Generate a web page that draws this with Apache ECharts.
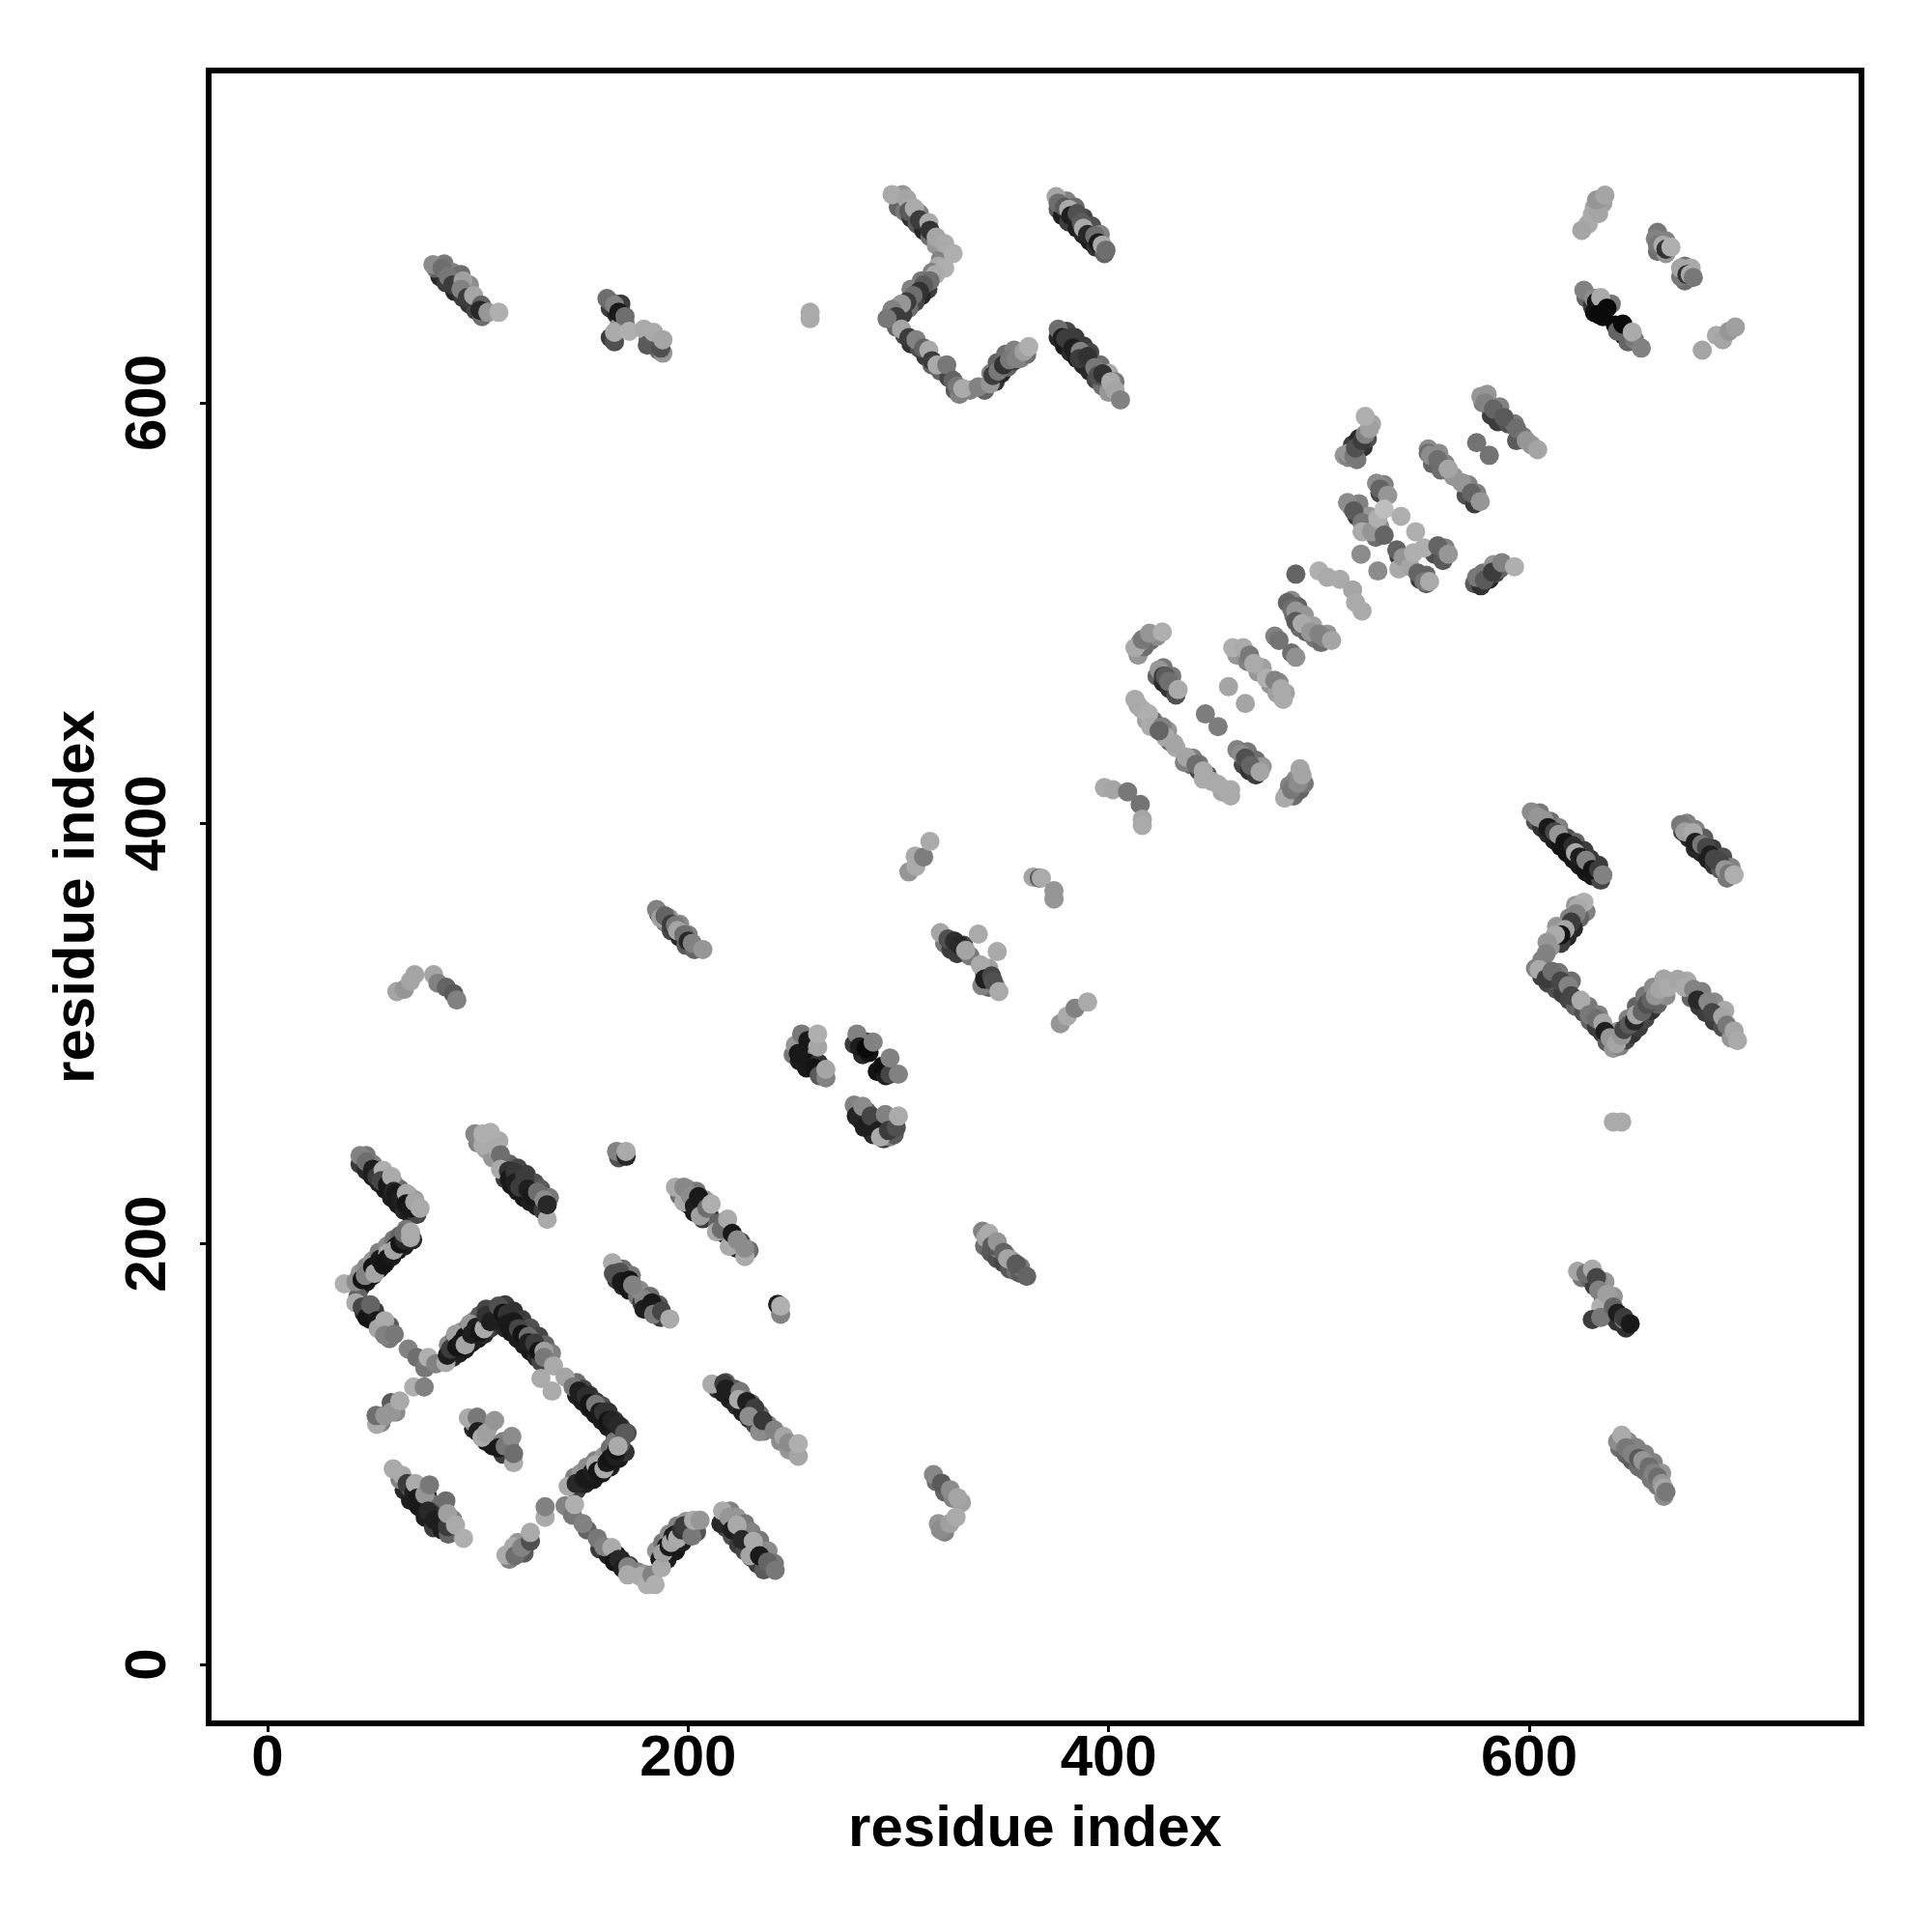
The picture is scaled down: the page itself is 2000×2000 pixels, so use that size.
<!DOCTYPE html>
<html><head><meta charset="utf-8">
<style>html,body{margin:0;padding:0;background:#fff}#c{width:2000px;height:2000px}</style>
<script src="https://cdn.jsdelivr.net/npm/echarts@6/dist/echarts.min.js"></script>
</head><body><div id="c"></div>
<script>
const axisTicks=[0,200,400,600];
const axisTitle="residue index";
// each entry: [residue x, residue y, grey level]; under* arrays are drawn first
const underLowerLeft=[[44,238,60],[47,235,40],[50,232,30],[53,229,30],[56,226,25],[59,222,30],[62,219,25],[65,216,40],[68,214,30],[71,214,70],[47,242,120],[50,238,130],[53,235,100],[57,232,120],[60,229,150],[63,226,110],[67,223,130],[70,221,150],
[44,179,60],[47,182,25],[50,185,20],[53,188,25],[56,191,20],[59,194,30],[62,197,20],[65,199,30],[69,202,40],[44,186,150],[47,189,140],[50,192,150],[53,196,130],[57,199,140],[60,202,120],[63,204,100],[66,207,120],
[43,175,100],[46,167,40],[49,164,30],[51,168,60],[54,160,60],[58,161,90],[58,155,120],
[88,146,40],[91,148,30],[94,150,25],[97,153,25],[100,155,30],[103,157,40],[106,160,60],[86,152,140],[89,155,120],[92,158,150],[95,160,130],[98,163,120],[101,166,90],[104,169,70],
[110,165,30],[113,160,40],[116,158,25],[119,155,30],[122,152,30],[125,149,25],[128,146,40],[130,144,70],[113,171,60],[117,168,50],[121,164,60],[125,160,80],[129,156,70],[132,152,100],[135,148,130],
[147,128,30],[150,125,25],[153,122,30],[156,119,25],[159,116,30],[162,113,25],[165,110,30],[168,108,50],[147,134,110],[150,131,70],[153,128,50],[156,125,60],[159,123,80],[162,120,50],[165,116,60],[168,113,70],[171,110,80],
[147,83,60],[151,86,30],[155,88,25],[159,91,25],[163,94,30],[167,98,25],[170,101,50],[146,89,130],[149,91,150],[152,94,140],[156,97,130],[160,99,150],[163,103,110],[165,106,120],[168,105,90],
[158,55,60],[162,52,30],[166,52,25],[168,50,30],[172,47,60],[152,64,100],[176,44,130],[179,43,150],
[190,50,30],[194,54,25],[197,58,30],[200,61,30],[204,63,80],[185,54,150],[188,58,120],[191,62,140],[195,66,130],[199,68,150],
[218,65,70],[221,61,80],[224,57,60],[227,54,70],[230,51,50],[233,48,60],[236,45,90],[220,73,130],[223,70,150],[227,67,120],[230,63,130],[234,59,120],[238,54,140],[241,48,120]];
const underMiddleLeft=[[113,231,60],[116,228,25],[119,225,30],[122,222,25],[125,220,30],[128,218,30],[131,216,60],[115,238,100],[119,236,70],[123,233,60],[127,229,80],[130,226,90],[134,222,120],[100,248,130],[104,245,160],[107,241,150],[110,249,170],
[167,241,80],[169,243,130],
[196,223,110],[200,219,30],[203,215,25],[207,212,60],[210,214,30],[214,210,100],[217,205,30],[220,202,25],[223,198,30],[225,201,70],[229,197,110],[200,226,160],[204,225,120],[208,221,150],
[166,183,60],[169,180,40],[172,178,25],[176,175,120],[178,172,60],[181,169,25],[184,167,40],[187,165,60],[169,188,110],[173,185,120],[177,178,140],[182,175,110],[186,171,90],
[214,131,50],[217,129,30],[220,126,30],[223,123,40],[226,120,30],[229,117,40],[232,114,70],[236,111,120],[218,134,100],[222,131,90],[226,127,110],[230,124,90],[234,119,110],[238,114,130],[244,106,140],[248,102,150],
[54,115,130],[61,120,140],[98,112,40],[101,114,60],[104,106,30],[107,104,25],[112,100,60],[115,104,110],[98,115,140],[105,113,150],[112,106,130],
[65,83,40],[68,78,30],[72,75,25],[75,70,30],[79,65,60],[83,64,30],[86,62,100],[63,88,130],[68,84,120],[72,83,130],[76,80,40],[80,76,110],[84,73,60],[88,69,130],
[115,50,130],[119,54,110],[122,53,90],[119,58,150],
[318,87,110],[322,82,100],[326,79,130],[319,67,150],[322,63,130],[330,77,160],
[341,199,110],[344,196,90],[347,193,80],[350,191,70],[353,188,90],[356,187,110],[358,186,90],[343,203,130],[347,198,140],[351,195,130],[354,192,150],[358,189,120],
[250,290,120],[253,287,30],[255,291,20],[258,285,30],[259,289,20],[262,286,50],[258,295,130],[260,297,40],[263,282,130],
[279,295,60],[283,290,40],[286,291,20],[290,282,20],[294,280,30],[282,297,90],[285,296,60],
[280,264,60],[282,259,30],[285,257,25],[288,252,40],[293,250,60],[296,251,130],[285,263,100],[290,258,140],[296,258,100],[298,252,90],
[186,357,70],[189,353,130],[192,349,70],[196,346,40],[199,342,90],[203,340,100],[191,355,150],[196,352,140],[200,347,130],
[322,343,120],[325,340,60],[328,338,60],[331,342,70],[334,337,120],[341,329,70],[343,322,100],[346,323,130],[343,331,160]];
const underCentre=[[461,480,150],[466,477,130],[471,472,150],[473,474,160],[477,466,150],[480,462,160],[481,467,140],[484,462,160],
[414,456,165],[418,449,160],[421,449,110],[423,446,80],[426,443,60],[429,439,100],[428,444,150],[432,436,170],
[439,428,110],[443,425,70],[447,423,90],[449,420,165],[454,415,165],[458,416,170],[436,429,130],[440,431,130],[443,428,120],
[461,435,130],[464,428,70],[467,425,50],[470,423,60],[466,434,120],[470,430,110],[473,427,150],
[485,414,130],[488,413,110],[491,416,100],[493,419,120],[489,421,140],[486,418,130],
[423,470,100],[426,467,40],[429,464,50],[432,461,80],[426,474,120],[430,470,120],
[414,480,150],[417,484,110],[420,487,110],[423,489,140],[415,486,130],
[487,506,140],[490,503,100],[488,499,110],[493,499,150],[491,493,110],[494,491,100],[498,488,120],[501,486,110],[504,490,150],[497,494,160],
[512,575,150],[516,580,60],[519,583,40],[521,579,50],[523,583,80],[518,573,120],[525,590,165],[514,574,130],
[578,600,120],[582,594,60],[585,591,60],[590,590,80],[593,590,120],[597,584,120],[601,580,150],[580,604,150],[586,598,130],[594,582,90],
[554,571,100],[558,568,110],[560,571,130],[564,565,150],[570,556,80],[574,552,60],[571,561,130],[575,557,130],[552,578,140],[557,576,140],
[529,557,70],[531,561,130],[518,546,60],[522,541,60],[515,551,100],[519,552,130],[524,546,150],[527,536,110],[529,541,140],
[538,527,60],[541,524,100],[548,516,60],[551,514,90],[555,528,80],[559,525,90],[560,531,130],[551,518,100],[543,526,130],
[574,514,90],[577,513,50],[581,516,40],[584,519,70],[586,521,100],[578,519,120],[583,523,150]];
const underUpper=[[82,660,40],[85,657,60],[89,653,40],[93,650,60],[96,647,50],[99,644,70],[102,641,110],[80,664,100],[84,666,120],[88,662,130],[92,661,110],[96,656,140],
[163,645,60],[166,642,40],[170,638,90],[163,631,60],[167,636,150],[163,648,90],[168,647,60],[184,629,60],[186,625,100],[181,630,110],
[300,693,100],[303,691,120],[306,688,50],[309,685,90],[312,682,40],[315,679,110],[318,675,150],[302,699,150],[310,690,130],[320,668,130],[319,665,170],[314,654,60],[311,651,40],[308,648,70],[305,645,110],[302,642,60],[299,645,110],[316,662,130],[311,658,120],[306,654,130],
[299,636,100],[303,632,70],[306,628,50],[310,626,80],[313,622,60],[316,618,100],[320,615,100],[324,612,70],[327,606,90],[329,604,130],[334,606,130],[341,606,100],[346,610,50],[349,614,40],[352,617,100],[355,620,60],[358,621,130],[361,623,110],[344,614,130],[347,619,100],[351,623,110],[355,625,130],
[376,692,90],[378,689,30],[381,686,60],[385,683,30],[388,680,40],[391,677,30],[394,674,50],[398,671,100],[380,696,130],[384,693,110],[388,688,70],[392,684,80],[396,680,130],
[376,631,40],[379,627,25],[382,624,40],[385,621,25],[388,618,40],[391,615,40],[394,611,70],[397,608,110],[400,605,150],[380,634,70],[384,631,60],[388,627,60],[391,624,70],[396,618,110],[400,614,170],[403,610,120],
[628,685,170],[631,693,170],[635,695,160],[632,692,140],
[661,681,120],[661,672,110],[665,677,130],[665,671,150],[674,665,120],[677,664,170],[674,658,110],[672,660,120],
[627,650,100],[630,646,60],[631,643,20],[635,641,15],[639,647,120],[641,637,10],[645,632,20],[647,629,100],[650,630,120]];
const underRight=[[603,401,80],[606,398,50],[609,395,40],[612,392,30],[615,389,20],[618,386,20],[621,383,20],[624,380,25],[627,377,20],[630,375,25],[634,373,70],[605,405,120],[610,401,110],[614,398,130],[618,393,80],[622,391,100],[626,387,60],[629,383,60],[633,380,60],
[673,396,60],[676,393,40],[679,388,40],[682,386,40],[685,383,30],[688,380,50],[691,378,90],[694,374,120],[675,400,130],[679,397,130],[683,393,90],[687,388,60],[692,384,80],[696,379,130],
[627,358,130],[624,355,100],[621,350,40],[618,346,40],[615,343,60],[622,361,150],[619,355,130],[613,351,150],[610,341,150],[606,335,130],[606,327,60],[609,324,70],[613,321,80],[616,319,60],[619,316,70],[622,313,100],[626,310,80],[629,306,100],[632,303,60],[635,300,60],[637,296,90],[640,293,150],[614,329,120],[620,325,110],[628,313,120],[633,309,130],
[643,294,130],[646,297,70],[649,300,50],[652,303,60],[655,307,70],[658,311,50],[661,314,100],[665,318,140],[642,301,150],[647,307,130],[651,313,100],[655,318,120],[659,322,140],[664,326,165],[677,317,100],[681,313,60],[684,310,60],[688,306,60],[692,303,80],[696,298,150],[675,325,170],[682,320,130],[688,315,140],[693,311,170],
[625,184,120],[629,183,100],[631,180,60],[635,175,100],[637,170,150],[638,166,100],[642,163,50],[646,160,50],[636,182,150],[640,175,150],
[643,103,110],[646,100,100],[649,97,90],[652,94,110],[655,92,110],[658,88,120],[661,85,120],[664,80,140],[647,106,140],[651,103,130],[655,100,130],[659,96,130],[663,91,150]];
const lowerLeftA=[[44,242,130],[47,239,110],[50,235.5,30],[52,232,60],[55,235,175],[54,230,70],[57,228,25],[59,232,170],[60,225,40],[61,224,25],[63,221,30],[66,224,170],[66,219,20],[68,217,25],[70,220,165],[72.5,217,170]];
const lowerLeftB=[[36.5,181,175],[42,182,140],[45,183,20],[46.5,185,130],[50,189,20],[51,186,165],[53.4,192.6,25],[55,190,20],[57.2,195.6,170],[57,193,20],[59,194,25],[61,198.7,30],[60,197,165],[63,200,20],[65,201.8,40],[65,205,110],[68,203,170],[68,205.6,170]];
const lowerLeftC=[[42,172,170],[45,170,70],[47.3,165,20],[49,171,100],[52,163.5,25],[52.6,159.7,165],[55.7,163.5,170],[55.7,156.6,130],[60.3,157,120],[66.9,150,130],[71,146,110],[74.8,141,120],[76.4,146,175],[80,143,130],[69.5,132,175],[74.5,132,130]];
const lowerLeftD=[[84.8,143.6,170],[85.5,147,30],[87,150,60],[89.4,157,160],[90,151,20],[92,153,25],[94,156,20],[94,152,165],[96.3,162,150],[97,157,30],[99.3,160.4,30],[101,158,20],[103,159.7,170],[104,166,50],[106,163,30]];
const lowerLeftE=[[109.8,170.4,80],[112,167,20],[114,166.6,50],[114,162,25],[117,163,25],[119.3,159.7,70],[121,157,20],[124,156,110],[124,153,30],[127,152.8,60],[129,149,20],[130,136,170],[131.5,149,160],[131.5,146,120],[136,142,170],[135.3,130,170],[141.5,136.7,165],[145.3,132,120],[148,130,30],[151.4,127.6,45],[153,124,20],[156,123.7,120],[158,120,25],[159.8,120,50],[162,116,20],[163.7,116,35],[166.7,113.8,40],[169.8,110,90]];
const lowerLeftF=[[143,84.7,170],[146.8,86,40],[150.6,88.5,25],[154.5,91.6,30],[156,95,170],[157,92,20],[160,93,170],[161.4,96,25],[163,98,20],[165.2,99,30],[166,102,20],[166.7,103.8,170],[132,70,170],[132,75,130]];
const lowerLeftG=[[141.5,75.5,130],[145,71,120],[146,76,175],[150,67,130],[156.8,60,120],[160,56,130],[163.7,55.6,170],[165,48.7,20],[167,50,40],[169,45.6,30],[171.3,46.4,130],[171.3,42.6,170],[177.4,41.8,170],[180.5,38,175],[182.8,42.6,130],[184.3,38,175]];
const lowerLeftH=[[186.6,50,25],[187.3,46,170],[189.7,56,20],[188,53,160],[191,56,25],[192.8,61,30],[192,58,165],[194,61.7,30],[195,60,170],[197,64,50],[198,66,60],[201.8,61,120],[202.6,68.6,170],[205.7,68.6,150]];
const lowerLeftI=[[215.6,67,40],[216.4,73,170],[219.5,70,150],[221,64,30],[223.3,66.3,170],[225.6,59.4,40],[229.4,51.7,165],[231,58.6,170],[234,51.7,25],[237.8,48.7,100],[241.4,44.8,120]];
const clusterJ=[[98.6,252.3,135],[102.4,247,170],[102.4,252.3,175],[106,253,175],[108.5,246,170],[110.8,242.4,110],[110.8,235.5,170],[114.6,234.7,50],[115,231,25],[117.7,234,55],[117.7,229,30],[120,227,60],[122.3,231.6,60],[123.8,226,30],[126,223,25],[128.4,224.7,110],[133,211.7,170],[131.5,221,140],[133,218.6,40]];
const clusterK=[[166,244,130],[170.5,241.6,40],[170.5,244,170]];
const clusterL=[[194,227,170],[198,220,170],[198,227,135],[201,223,140],[203,218,30],[205,222.5,25],[205.8,213.3,160],[209,217,110],[211,219,175],[213.5,205.7,170],[215.8,207,110],[218.8,211.8,170],[219.6,198.8,170],[221,205,25],[223.4,201.9,140],[227,194,170],[227,198,140]];
const clusterM=[[164,191,170],[164.5,185.8,80],[167.5,186.5,80],[168.3,182,25],[172,182.7,20],[173.6,180.4,130],[179,173.5,135],[179,169,30],[182.8,172,25],[183.6,166.6,120],[187.4,168,70],[191.3,164.3,170]];
const clusterN=[[242.6,171.2,30],[244,166.6,130],[244,170.4,175]];
const clusterO=[[211.3,133.3,170],[217,133.6,60],[221,129,25],[218,131,30],[224.8,129.8,120],[224,126,170],[227.9,125,30],[231.7,122,60],[229,118,140],[234,110.7,140],[235.5,116,55],[241,111.5,130],[245.5,108.4,165],[247.8,105.3,140],[252.4,99,165],[252.4,105,175]];
const clusterP=[[51.9,114.2,170],[51.6,118.4,110],[55.7,118.4,150],[58.8,124.5,90],[58.8,120,150],[62.9,125.3,170]];
const clusterQ=[[95.5,117.3,170],[99.7,117.6,120],[100,110.7,30],[102,108,170],[104,110,160],[108,116,150],[110,103,25],[113,103.8,120],[116.2,108.4,140],[117,96,170],[117,100.3,110]];
const clusterR=[[59.8,93,170],[64,90,170],[66.4,86,60],[69.5,81.6,30],[70.3,86,170],[71,79,25],[74.8,80.8,150],[77,85.4,120],[76.4,73,40],[79.4,68.6,30],[84.8,77.8,110],[85.6,65.5,60],[85.6,71.7,160],[89.4,66.3,170],[93.2,60,175]];
const clusterS=[[113.4,52,170],[117,56,170],[117.7,51.7,110],[120.8,55.6,130],[125,58.6,80],[125,62.8,170]];
const clusterT=[[316.7,90.3,135],[320.5,86.2,90],[324.7,83,140],[328.2,79.3,165],[320,64,140],[324.4,67,160],[327.4,70,170]];
const clusterU=[[340,206,130],[341.6,203,165],[343,205,170],[344.5,199,90],[347,201,150],[350,196,100],[352,193,165],[356,190.4,90],[361,184.6,100]];
const clusterV=[[251,294.5,150],[252.4,290.6,25],[254,299.8,120],[256.3,283.7,25],[257,296.7,25],[260,283.7,20],[261.6,293.7,165],[261.6,299.8,175],[262.4,280,90],[265.5,279,130],[265.5,283,165]];
const clusterW=[[280.3,299.8,130],[281.5,293.7,30],[284.6,293,10],[288,296,130],[292.3,284.5,15],[296,280.7,70],[296,288.4,130],[300,280.7,130]];
const clusterX=[[279,266,130],[280,260.8,35],[283,265.4,140],[283.8,255.4,30],[287,260.8,70],[290.7,253.9,30],[291.5,250.8,170],[293.8,261.5,130],[295.3,253.9,60],[299,255.4,80],[300,260.8,170]];
const clusterY=[[61.5,320,165],[65,321,150],[68,325,165],[70,328,165],[79,328,165],[81,324,130],[85,322,100],[88.5,319,90],[90,316,130]];
const clusterZ=[[185,359,130],[187,355,160],[189,356,100],[192,352,60],[194,351.5,120],[195,349,165],[198,347,110],[200,344,40],[202,343,130],[207,340,150]];
const diagAA=[[320,348,165],[323.6,345,80],[326.7,344,45],[329,342,40],[332,339.6,165],[338,347.3,170],[339.7,322.8,130],[339,332.7,170],[341,325.9,30],[344.3,327.4,70],[345,325,80],[347,339,170],[347.8,320,170]];
const diagAB=[[305,376.9,150],[308,384.4,170],[308.3,379.5,170],[312,384,125],[315,391.4,170]];
const diagAC=[[364,374.4,165],[367,374,90],[368,374,170],[374,364,150],[374,368,150]];
const diagAD=[[377,304.7,150],[380.3,308.3,170],[384,312,130],[390,315,170]];
const centreA=[[398,417,170],[402,416,165],[409,415,120],[415,409,115],[416,402,165],[416,399,170]];
const centreB=[[412.5,459,170],[416,454,170],[419,452,175],[420,446,170],[425.5,446,130],[427,441,170],[424,444,100],[431,438,165]];
const centreC=[[437,431.5,165],[441.5,428,110],[445,425,170],[445,421,170],[452,418.5,170],[456,416,170],[458,413,170]];
const centreD=[[446,452,125],[452,446,125],[457,465,165],[465,457,165]];
const centreE=[[459,483.5,175],[464,483.5,170],[467,480,120],[469,476,170],[475,469,175],[479,468,130],[482,464,170],[483,459,170]];
const centreF=[[463,433,140],[465,431,80],[467.5,427.5,100],[472,424.5,165]];
const centreG=[[483.7,412,170],[487,416,120],[490,419,140],[492,423,165],[491,426,165]];
const centreH=[[424,473,150],[426,470,60],[427,470,90],[428.5,467.5,110],[433,463.6,170]];
const centreI=[[412.5,483.5,170],[416,487.4,120],[419.4,490.4,150],[425.5,491,175]];
const centreJ=[[479,489,130],[481,487,115],[487,481,110],[489,479,145],[489,518.5,100]];
const centreK=[[485,505,100],[487,502,110],[489,501,150],[491,498,150],[489,496,90],[492,495,170],[496,491,150],[500,490,130],[503,488,130],[506,487,165]];
const centreL=[[500,520,175],[504,517,170],[510,516,170],[516,511,165],[517.4,505,170],[520.5,501,170]];
const centreM=[[514,576,150],[516.6,574.7,120],[517.4,578.5,80],[520.5,582,60],[522,585,130],[524,587.7,160],[522,593.5,175]];
const centreN=[[577,603,150],[579,600,130],[583,597,100],[588,593,90],[594,587.7,110],[598.6,582,150],[604,577.7,165]];
const centreO=[[575,581,115],[581,575,115],[552,576,110],[553,575,140],[556.5,573,110],[561.5,568.5,165],[568,562,150],[572.5,557,100],[576.7,553,150]];
const centreP=[[527.4,561.7,140],[529,559,100],[532.7,556,150],[513.6,552.5,140],[516.6,548.6,90],[520.5,543,120],[520.5,538.7,170],[525,538.7,150],[528,545,175],[531,549.4,190],[539,546,175],[531,537,100],[546,538.7,175]];
const centreQ=[[520,528,140],[528,520,140],[537,530,100],[538,521,170],[540,526.4,150],[543.4,522,165],[545,528.7,175],[547,519,100],[550,515,120],[550,531,175],[552.6,515,170],[556.5,532,100],[561.5,528,150]];
const centreR=[[575,517,120],[578.7,515.7,90],[582.5,519.5,60],[587,524,130],[593,522,175]];
const upperA=[[78.7,665.7,140],[83,664,110],[86,660,120],[88,656,60],[93,658,160],[92,654,130],[95,650,60],[98,651,165],[101.7,646.5,100],[101,644,40],[104.8,643,150],[110,643,175]];
const upperB=[[161.4,649.6,110],[165,646.5,130],[165,629,80],[165,633.5,170],[167,643,25],[170,641,110],[172,634,175],[179,635,170],[180.6,627.4,90],[183.6,633.5,170],[188,623.6,150],[187,626,80],[188,630,165],[258,640,170],[258,643,170]];
const upperC=[[297,699,170],[304,697,165],[305,691,90],[307.6,692.5,170],[310,687,60],[314.5,685.6,170],[315,682,50],[318,678.7,165],[322,675.7,170],[326,671,175],[322,664,175],[317.6,661,170],[315,658,110],[312,656,90],[310,653,50],[307,651,110],[304,648,60],[301.5,647,150],[297,644.3,130],[299,641,60],[294.6,640,120]];
const upperD=[[301.5,635,165],[305,631,60],[308.4,630,130],[312,626,100],[314.5,625,170],[316,620,60],[318.4,618,170],[323,618,120],[326,610.6,100],[328,608,120],[330.6,606.8,170],[338,607.5,130],[343.6,609,150],[345,613,60],[347.4,615,120],[350,618,50],[352.8,620.5,120],[356,621,130],[359.7,624.4,160],[362,626.7,175]];
const upperE=[[375,698,165],[376,695,110],[379,693,90],[381,692,170],[382,689,30],[385,690,80],[387,685.6,90],[388,683,170],[390,680,40],[393.4,679.5,110],[395,676,25],[397,675,170],[398.7,672.6,110]];
const upperF=[[376,635,110],[378,631,30],[379.6,630.5,60],[383,626,30],[386.5,624.4,130],[386,621,60],[390,622,50],[393.4,616.7,120],[395,613,80],[397.2,613.7,50],[401,610,170],[403,606,165],[405.6,601.4,130]];
const upperG=[[625,682,165],[630,689.5,170],[633,690,165],[632,696.4,150],[636,698.7,165]];
const upperH=[[660,678,130],[661,675,120],[663.6,675,170],[665,673,50],[667.4,674,175],[672,664,165],[675,661,50],[676.6,661,170],[678,659.6,120]];
const upperI=[[626,653.5,130],[630.7,649.7,140],[632,648,20],[634,650,170],[633,642,10],[637,645,10],[642,634,100],[644.5,637.4,10],[649,633.6,170],[653.3,626,130],[682.3,625,165],[689,632,170],[692,630,165],[695,634,150],[698,636,160]];
const rightA=[[601,405.4,140],[604,403,150],[607,401.6,150],[609,398,25],[612,396,70],[614,394.7,150],[617,391,20],[620.8,389.3,45],[622,386,170],[624,384,30],[627,382.4,130],[630,378,20],[633,378,60],[635,375.5,130]];
const rightB=[[672,399.3,120],[674,396,160],[678,395.5,170],[679,391,30],[682,390,120],[684.3,388.6,70],[686,385,30],[688,383,70],[690.5,381.7,70],[693,378,150],[695,376,120],[697.4,375.5,175]];
const rightC=[[626,362.5,175],[623,360,170],[622.3,357,130],[620,353,60],[617,349.5,165],[615,347,20],[612.4,347,170],[608.5,343.4,150],[608,338,130],[603,331,130],[604.7,330.4,170],[608,326,60],[610.8,329.6,110],[615,325,70],[618.5,322.7,130],[620,318,70],[624.6,315.8,170],[628.5,309,120],[632,307,110],[635,305,165],[636,301,30],[638.4,298,150],[641.5,295.2,165]];
const rightD=[[644,299,150],[645,302,70],[647.6,304.3,90],[650,306,40],[651,309,165],[653.7,310.5,100],[656,314,80],[658,316,100],[660,318,150],[662,321,165],[666,322,170],[670.6,325.8,165],[674,322,170],[678.2,321,130],[680,316,40],[685,315,135],[687,310,70],[692,308,165],[694,304,120],[697.4,301.3,165],[699,296.7,170]];
const rightE=[[640,258,170],[644,258,170]];
const rightF=[[623,187,165],[627,186,110],[630,188,170],[632,184,70],[633,178,130],[634,170,175],[630,164,60],[634,165,120],[637,176,160],[640,170,100],[642,167,30],[645,164,120],[645,165,60],[648,162,25]];
const rightG=[[642,106,140],[644,109,170],[646,103,120],[649,100,130],[652,98,90],[654,97,150],[657,94,110],[659,91,130],[661,89,110],[663,86,150],[664,84,165],[665,82,120]];
const allPoints=[].concat(underLowerLeft,underMiddleLeft,underCentre,underUpper,underRight,lowerLeftA,lowerLeftB,lowerLeftC,lowerLeftD,lowerLeftE,lowerLeftF,lowerLeftG,lowerLeftH,lowerLeftI,clusterJ,clusterK,clusterL,clusterM,clusterN,clusterO,clusterP,clusterQ,clusterR,clusterS,clusterT,clusterU,clusterV,clusterW,clusterX,clusterY,clusterZ,diagAA,diagAB,diagAC,diagAD,centreA,centreB,centreC,centreD,centreE,centreF,centreG,centreH,centreI,centreJ,centreK,centreL,centreM,centreN,centreO,centreP,centreQ,centreR,upperA,upperB,upperC,upperD,upperE,upperF,upperG,upperH,upperI,rightA,rightB,rightC,rightD,rightE,rightF,rightG);
const font='"Liberation Sans"';
function axis(isY){return {type:'value',min:-28,max:758,
  name:axisTitle,nameLocation:'middle',nameGap:isY?106:80,nameRotate:isY?90:0,
  nameTextStyle:{fontFamily:font,fontWeight:'bold',fontSize:60,color:'#000',lineHeight:60},
  splitLine:{show:false},axisLine:{show:false,onZero:false},
  axisTick:{show:true,length:9,lineStyle:{color:'#000',width:3},customValues:axisTicks},
  axisLabel:{show:true,rotate:isY?90:0,margin:isY?32:7,fontFamily:font,fontWeight:'bold',fontSize:60,color:'#000',lineHeight:60,customValues:axisTicks}};}
const chart=echarts.init(document.getElementById('c'),null,{renderer:'canvas'});
chart.setOption({animation:false,backgroundColor:'#fff',
  grid:{left:216,top:73,width:1711,height:1711,show:true,borderColor:'#000',borderWidth:6,backgroundColor:'transparent'},
  xAxis:axis(false),yAxis:axis(true),
  series:[{type:'scatter',symbol:'circle',symbolSize:20,silent:true,
    data:allPoints,encode:{x:0,y:1},
    itemStyle:{opacity:1,color:p=>{const g=p.value[2];return 'rgb('+g+','+g+','+g+')';}}}]});
</script></body></html>
